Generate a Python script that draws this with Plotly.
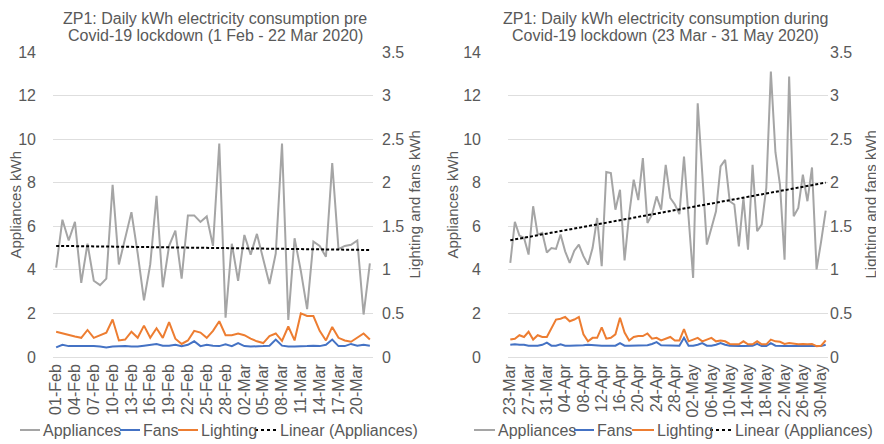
import numpy as np
import pandas as pd
import plotly.graph_objects as go

# ---------------- data ----------------
pre_start, pre_end = "2020-02-01", "2020-03-22"
dur_start, dur_end = "2020-03-23", "2020-05-31"
pre_dates = pd.date_range(pre_start, pre_end, freq="D")
dur_dates = pd.date_range(dur_start, dur_end, freq="D")

pre_appliances = [4.1, 6.3, 5.35, 6.2, 3.4, 5.2, 3.5, 3.3, 3.6, 7.9,
                  4.25, 5.45, 6.65, 4.75, 2.6, 4.25, 7.4, 3.2, 5.1, 5.8,
                  3.6, 6.5, 6.5, 6.2, 6.45, 5.1, 9.8, 1.8, 5.2, 3.5,
                  5.6, 4.7, 5.65, 4.5, 3.35, 4.75, 9.8, 1.7, 5.45, 3.95,
                  2.2, 5.3, 5.1, 4.6, 8.9, 4.95, 5.1, 5.15, 5.35, 1.95,
                  4.3]
pre_fans = [0.11, 0.14, 0.125, 0.125, 0.125, 0.13, 0.125, 0.12, 0.11, 0.12,
            0.125, 0.125, 0.12, 0.12, 0.13, 0.14, 0.15, 0.13, 0.13, 0.14,
            0.125, 0.14, 0.18, 0.125, 0.14, 0.13, 0.125, 0.145, 0.125, 0.16,
            0.125, 0.12, 0.12, 0.125, 0.13, 0.20, 0.13, 0.12, 0.12, 0.12,
            0.125, 0.13, 0.125, 0.14, 0.20, 0.125, 0.125, 0.15, 0.13, 0.14,
            0.13]
pre_lighting = [0.29, 0.27, 0.25, 0.235, 0.22, 0.31, 0.22, 0.25, 0.28, 0.43,
                0.19, 0.20, 0.29, 0.22, 0.36, 0.22, 0.33, 0.22, 0.40, 0.21,
                0.15, 0.19, 0.30, 0.28, 0.22, 0.30, 0.41, 0.25, 0.25, 0.27,
                0.25, 0.21, 0.18, 0.16, 0.24, 0.27, 0.185, 0.35, 0.19, 0.50,
                0.47, 0.47, 0.30, 0.19, 0.345, 0.22, 0.19, 0.175, 0.22, 0.27,
                0.20]

dur_appliances = [4.32, 6.2, 5.57, 5.47, 4.7, 6.92, 5.62, 5.7, 4.8, 5.0,
                  4.96, 5.62, 4.85, 4.32, 4.88, 5.16, 4.63, 4.24, 5.0, 6.38,
                  4.17, 8.49, 8.44, 6.76, 7.68, 4.43, 6.53, 8.14, 7.2, 9.13,
                  6.15, 6.53, 7.37, 6.76, 8.82, 7.3, 7.0, 6.56, 9.2, 6.38,
                  3.63, 11.65, 8.3, 5.16, 5.92, 6.69, 8.75, 9.05, 7.15, 7.0,
                  5.08, 7.3, 4.93, 8.82, 5.77, 6.08, 7.76, 13.1, 9.4, 7.9,
                  4.47, 12.87, 6.46, 6.84, 8.37, 7.15, 8.7, 4.02, 5.31, 6.72]
dur_fans = [0.14, 0.145, 0.14, 0.14, 0.13, 0.13, 0.13, 0.14, 0.165, 0.13,
            0.13, 0.145, 0.13, 0.13, 0.13, 0.135, 0.135, 0.14, 0.135, 0.13,
            0.13, 0.13, 0.13, 0.13, 0.16, 0.13, 0.13, 0.13, 0.13, 0.13,
            0.135, 0.15, 0.17, 0.135, 0.135, 0.13, 0.13, 0.13, 0.22, 0.13,
            0.13, 0.14, 0.16, 0.13, 0.13, 0.14, 0.16, 0.14, 0.13, 0.125,
            0.125, 0.125, 0.125, 0.13, 0.15, 0.125, 0.125, 0.16, 0.13, 0.125,
            0.125, 0.125, 0.125, 0.125, 0.125, 0.125, 0.125, 0.12, 0.125, 0.14]
dur_lighting = [0.20, 0.21, 0.25, 0.23, 0.29, 0.20, 0.25, 0.23, 0.23, 0.33,
                0.43, 0.44, 0.46, 0.41, 0.43, 0.46, 0.26, 0.18, 0.22, 0.22,
                0.34, 0.21, 0.22, 0.26, 0.45, 0.28, 0.19, 0.23, 0.24, 0.24,
                0.27, 0.21, 0.22, 0.19, 0.21, 0.23, 0.19, 0.19, 0.32, 0.18,
                0.20, 0.22, 0.18, 0.20, 0.22, 0.18, 0.19, 0.18, 0.15, 0.145,
                0.145, 0.18, 0.145, 0.145, 0.18, 0.145, 0.145, 0.20, 0.18, 0.175,
                0.15, 0.16, 0.15, 0.145, 0.15, 0.145, 0.15, 0.125, 0.13, 0.19]

series_names = ["Appliances", "Fans", "Lighting", "Linear (Appliances)"]
title_lines = [["ZP1: Daily kWh electricity consumption pre",
                "Covid-19 lockdown (1 Feb - 22 Mar 2020)"],
               ["ZP1: Daily kWh electricity consumption during",
                "Covid-19 lockdown (23 Mar - 31 May 2020)"]]
left_axis_title = "Appliances kWh"
right_axis_title = "Lighting and fans kWh"


def linear_trend(values):
    idx = np.arange(len(values))
    slope, intercept = np.polyfit(idx, values, 1)
    return slope * idx + intercept


# ---------------- style / geometry ----------------
PAGE_W, PAGE_H = 884, 444
OFF = 8                      # default page margin of the html body
W, H = PAGE_W - OFF, PAGE_H - OFF
FONT = "Liberation Sans, Arial, sans-serif"
TXT = "#595959"
GRID = "#DEDEDE"
COLORS = ["#A5A5A5", "#4472C4", "#ED7D31", "#000000"]
DASHES = ["solid", "solid", "solid", "3px,2px"]
TICK_SIZE = 16


def px_x(px):
    return (px - OFF) / W


def px_y(py):
    return 1 - (py - OFF) / H


fig = go.Figure()

panels = [
    dict(dates=pre_dates, app=pre_appliances, fan=pre_fans, lig=pre_lighting,
         xa="x", ya="y", ya2="y2"),
    dict(dates=dur_dates, app=dur_appliances, fan=dur_fans, lig=dur_lighting,
         xa="x2", ya="y3", ya2="y4"),
]
for k, p in enumerate(panels):
    ys = [p["app"], p["fan"], p["lig"], linear_trend(p["app"])]
    axes = [p["ya"], p["ya2"], p["ya2"], p["ya"]]
    for j in range(4):
        fig.add_trace(go.Scatter(x=p["dates"], y=ys[j], name=series_names[j], mode="lines",
                                 line=dict(color=COLORS[j], width=2, dash=DASHES[j]),
                                 xaxis=p["xa"], yaxis=axes[j], showlegend=False,
                                 legendgroup=series_names[j]))

PLOT_TOP, PLOT_BOT = 52, 357
y_dom = [px_y(PLOT_BOT), px_y(PLOT_TOP)]
day = 86400000


def xaxis(dom, r, t0, dt):
    return dict(domain=dom, type="date", range=r, tick0=t0, dtick=dt, tickformat="%d-%b",
                tickangle=-90, showgrid=False, zeroline=False, showline=False, ticks="",
                ticklabelstandoff=3, tickfont=dict(size=TICK_SIZE, color=TXT), automargin=False)


def yleft(anchor, standoff):
    return dict(domain=y_dom, anchor=anchor, range=[0, 14], dtick=2, showgrid=True, gridcolor=GRID,
                gridwidth=1, zeroline=True, zerolinecolor=GRID, zerolinewidth=1, showline=False,
                ticks="", ticklabelstandoff=standoff,
                tickfont=dict(size=TICK_SIZE, color=TXT), automargin=False)


def yright(anchor, over, standoff):
    return dict(anchor=anchor, overlaying=over, side="right", range=[0, 3.5], dtick=0.5,
                showgrid=False, zeroline=False, showline=False, ticks="", ticklabelstandoff=standoff,
                tickfont=dict(size=TICK_SIZE, color=TXT), automargin=False)


annotations = []
# chart titles (two lines each)
for lines, cx in zip(title_lines, [215, 665]):
    for line, cy in zip(lines, [18.5, 35]):
        annotations.append(dict(text=line, x=px_x(cx), y=px_y(cy), xref="paper", yref="paper",
                                xanchor="center", yanchor="middle", showarrow=False, borderpad=0,
                                font=dict(size=16, color=TXT)))
# axis titles (rotated)
for txt, cx in [(left_axis_title, 15), (right_axis_title, 414),
                (left_axis_title, 452), (right_axis_title, 870)]:
    annotations.append(dict(text=txt, x=px_x(cx), y=px_y((PLOT_TOP + PLOT_BOT) / 2),
                            xref="paper", yref="paper", textangle=-90,
                            xanchor="center", yanchor="middle", showarrow=False,
                            font=dict(size=15, color=TXT)))

# legends (one per chart, drawn below each chart)
shapes = []
LEG_Y = px_y(430)
legend_layouts = [
    dict(samples=[(20, 40), (120, 140), (178, 198), (255, 277)], texts=[41, 141, 199, 278]),
    dict(samples=[(474, 495), (574, 594), (632, 654), (710, 732)], texts=[496, 595, 655, 733]),
]
for lay in legend_layouts:
    for j in range(4):
        x0, x1 = lay["samples"][j]
        shapes.append(dict(type="line", xref="paper", yref="paper", x0=px_x(x0), x1=px_x(x1),
                           y0=LEG_Y, y1=LEG_Y,
                           line=dict(color=COLORS[j], width=2,
                                     dash="dot" if DASHES[j] != "solid" else "solid")))
        annotations.append(dict(text=series_names[j], x=px_x(lay["texts"][j]), y=LEG_Y,
                                xref="paper", yref="paper", xanchor="left", yanchor="middle",
                                showarrow=False, font=dict(size=16, color=TXT)))

fig.update_layout(
    width=W, height=H,
    margin=dict(l=0, r=0, t=0, b=0),
    paper_bgcolor="white", plot_bgcolor="white",
    font=dict(family=FONT, color=TXT, size=15),
    showlegend=False,
    xaxis=xaxis([px_x(53), px_x(373)], ["2020-01-31 12:00", "2020-03-22 12:00"], "2020-02-01", 3 * day),
    xaxis2=xaxis([px_x(508), px_x(828)], ["2020-03-22 12:00", "2020-05-31 12:00"], "2020-03-23", 4 * day),
    yaxis=yleft("x", 16),
    yaxis2=yright("x", "y", 8),
    yaxis3=yleft("x2", 26),
    yaxis4=yright("x2", "y3", 1),
    annotations=annotations,
    shapes=shapes,
)

fig.write_html("out.html")
